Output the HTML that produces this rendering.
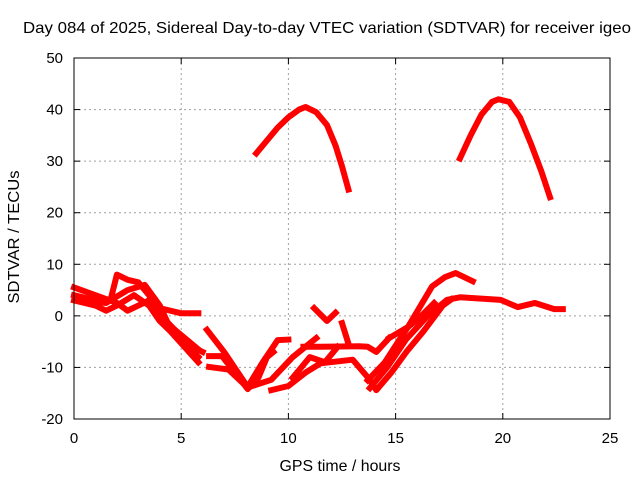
<!DOCTYPE html>
<html><head><meta charset="utf-8"><style>
body{margin:0;background:#fff}
svg text{font-family:"Liberation Sans",sans-serif;font-size:15px;fill:#000}
</style></head><body>
<svg id="chart" width="640" height="480" viewBox="0 0 640 480" xmlns="http://www.w3.org/2000/svg">
<rect width="640" height="480" fill="#fff"/>
<text x="327" y="33" text-anchor="middle" style="font-size:16px" textLength="608" lengthAdjust="spacingAndGlyphs">Day 084 of 2025, Sidereal Day-to-day VTEC variation (SDTVAR) for receiver igeo</text>
<text x="340" y="471" text-anchor="middle" style="font-size:16px" textLength="121" lengthAdjust="spacingAndGlyphs">GPS time / hours</text>
<text transform="translate(19,237) rotate(-90)" text-anchor="middle" style="font-size:16px" textLength="133" lengthAdjust="spacingAndGlyphs">SDTVAR / TECUs</text>
<g id="grid"></g>
<g id="series"></g>
<rect x="74" y="58" width="536" height="361" fill="none" stroke="#000" stroke-width="1"/>
</svg>
<script>
const xTicks=[0,5,10,15,20,25];
const yTicks=[-20,-10,0,10,20,30,40,50];
const arc1=[[8.5,31.5],[9,34],[9.5,36.5],[10,38.5],[10.5,40],[10.8,40.5],[11.3,39.5],[11.8,37],[12.2,33],[12.5,29],[12.8,24.5]];
const arc2=[[18,30.5],[18.5,35],[19,39],[19.5,41.5],[19.8,42],[20.3,41.5],[20.8,38.5],[21.3,33.5],[21.8,28],[22.2,23]];
const low1=[[0,5.5],[1,4],[2,2.5],[2.5,1],[3,2],[3.5,3],[4,1.5],[5,0.5],[5.8,0.5]];
const low2=[[0,3],[1,2],[1.5,1],[2,2],[2.8,4],[3.5,2],[4,-1],[4.5,-3],[5.8,-9]];
const low3=[[0,4],[1,3],[1.7,3],[2,8],[2.5,7],[3,6.5],[3.5,4],[4,0],[4.5,-2],[5.8,-6.5]];
const low4=[[0.5,3],[1.5,2.5],[2.5,5],[3.3,6],[4,2],[4.5,-2.5],[5,-5],[5.8,-8]];
const low5=[[3.8,3],[4.3,-1],[5,-4],[5.5,-6],[6,-7]];
const mid1=[[6.2,-2.7],[7,-7],[8.1,-13.8],[8.8,-9],[9.5,-4.7],[10,-4.6]];
const mid2=[[6.3,-7.8],[6.9,-7.8],[7.5,-11],[8.1,-14.2],[8.6,-12],[9,-8],[9.3,-7]];
const mid3=[[6.3,-9.9],[7.2,-10.4],[8.1,-13.9],[9.2,-12.4],[10.2,-8],[11.3,-4.3]];
const mid4=[[9.2,-14.4],[10,-13.6],[10.8,-11],[11.5,-9.2],[13,-8.5],[13.8,-12.4],[14.1,-14.4],[14.8,-11],[15.5,-7],[16.3,-3],[17.2,2],[17.6,3.2]];
const mid5=[[10.7,-6],[11.5,-6],[13.3,-5.9],[13.7,-6],[14.1,-7],[14.7,-4.3]];
const mid6=[[10.2,-12],[11,-8],[11.7,-9],[12.3,-6]];
const squig=[[11.2,1.5],[11.8,-1],[12.2,0.6]];
const dip=[[12.5,-1.4],[12.8,-5.4]];
const rise1=[[13.7,-12.5],[14.5,-9],[15.2,-4.5],[15.6,-2],[16.7,5.7],[17.3,7.5],[17.8,8.3],[18.6,6.7]];
const rise2=[[13.8,-14],[14.6,-10],[15.5,-4.5],[16.5,0],[17.4,3.1],[18,3.6],[19.9,3.1],[20.7,1.7],[21.5,2.5],[22.4,1.3],[22.8,1.3]];
const rise3=[[14.7,-4.3],[15.6,-2.1],[16.2,0],[16.8,2.5]];
const tracks=[arc1,arc2,low1,low2,low3,low4,low5,mid1,mid2,mid3,mid4,mid5,mid6,squig,dip,rise1,rise2,rise3];
const X0=74,X1=610,Y0=419,Y1=58,XMIN=0,XMAX=25,YMIN=-20,YMAX=50;
const sx=v=>X0+(v-XMIN)/(XMAX-XMIN)*(X1-X0);
const sy=v=>Y0-(v-YMIN)/(YMAX-YMIN)*(Y0-Y1);
const NS="http://www.w3.org/2000/svg";
const grid=document.getElementById('grid'),ser=document.getElementById('series');
function mk(t,a,p){const e=document.createElementNS(NS,t);for(const k in a)e.setAttribute(k,a[k]);p.appendChild(e);return e;}
xTicks.forEach(v=>{
 const x=sx(v);
 if(v>XMIN&&v<XMAX){const g=mk('line',{x1:x,x2:x,y1:Y1,y2:Y0,stroke:'#a0a0a0','stroke-dasharray':'2,3'},grid);
 
 }
 mk('line',{x1:x,x2:x,y1:Y0,y2:Y0-6,stroke:'#000'},grid);
 mk('line',{x1:x,x2:x,y1:Y1,y2:Y1+6,stroke:'#000'},grid);
 const t=mk('text',{x:x,y:Y0+24,'text-anchor':'middle'},grid);t.textContent=v;
 
 
});
yTicks.forEach(v=>{
 const y=sy(v);
 if(v>YMIN&&v<YMAX){const g=mk('line',{x1:X0,x2:X1,y1:y,y2:y,stroke:'#a0a0a0','stroke-dasharray':'2,3'},grid);
 
 }
 mk('line',{x1:X0,x2:X0+6,y1:y,y2:y,stroke:'#000'},grid);
 mk('line',{x1:X1,x2:X1-6,y1:y,y2:y,stroke:'#000'},grid);
 const t=mk('text',{x:X0-11,y:y+5,'text-anchor':'end'},grid);t.textContent=v;
 
 
});
tracks.forEach(tr=>{
 const p=mk('polyline',{points:tr.map(d=>sx(d[0])+','+sy(d[1])).join(' '),fill:'none',stroke:'#ff0000','stroke-width':6,'stroke-linejoin':'round','stroke-linecap':'square'},ser);
 
 
});
</script>
</body></html>
